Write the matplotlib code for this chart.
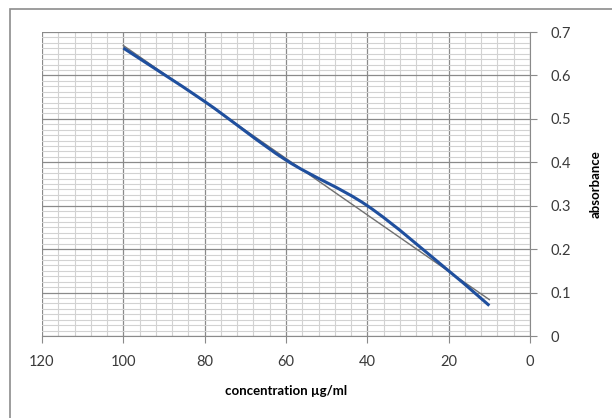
import numpy as np
import matplotlib
matplotlib.use('Agg')
import matplotlib.pyplot as plt
from matplotlib.path import Path
from matplotlib.patches import PathPatch, Rectangle
from matplotlib.ticker import MultipleLocator

# concentration (ug/ml) and absorbance
conc = [100, 80, 60, 40, 20, 10]
absorb = [0.663, 0.54, 0.405, 0.30, 0.15, 0.07]
x_ticks = [120, 100, 80, 60, 40, 20, 0]
y_ticks = [0, 0.1, 0.2, 0.3, 0.4, 0.5, 0.6, 0.7]

plt.rcParams['font.family'] = ['Lato', 'DejaVu Sans']


def smooth_path(xs, ys):
    # excel style smoothed line: catmull-rom turned into bezier segments
    p = np.column_stack([xs, ys]).astype(float)
    n = len(p)
    verts = [p[0]]
    codes = [Path.MOVETO]
    for i in range(n - 1):
        p0 = p[i - 1] if i > 0 else p[i]
        p3 = p[i + 2] if i + 2 < n else p[i + 1]
        c1 = p[i] + (p[i + 1] - p0) / 6
        c2 = p[i + 1] - (p3 - p[i]) / 6
        verts += [c1, c2, p[i + 1]]
        codes += [Path.CURVE4] * 3
    return Path(verts, codes)


fig = plt.figure(figsize=(6.12, 4.18), dpi=100)
ax = fig.add_axes([42 / 612, 1 - 336 / 418, 488 / 612, 304 / 418])

# outer chart frame
fig.add_artist(Rectangle((10 / 612, -0.2), 1.2, 1.2 - 9 / 418, transform=fig.transFigure,
                         fill=False, edgecolor='#8c8c8c', lw=1.2))

ax.set_xlim(120, 0)
ax.set_ylim(0, 0.7)
ax.xaxis.set_minor_locator(MultipleLocator(4))
ax.yaxis.set_minor_locator(MultipleLocator(0.0125))
ax.set_xticks(x_ticks)
ax.set_yticks(y_ticks)
ax.set_xticklabels([str(t) for t in x_ticks])
ax.set_yticklabels(['0'] + ['%.1f' % t for t in y_ticks[1:]])

ax.grid(which='major', color='#8a8a8a', lw=0.9)
ax.grid(which='minor', color='#d2d2d2', lw=0.8)
ax.set_axisbelow(True)

for s in ['top', 'left']:
    ax.spines[s].set_visible(False)
for s in ['bottom', 'right']:
    ax.spines[s].set_color('#8a8a8a')
ax.yaxis.tick_right()
ax.yaxis.set_label_position('right')
ax.tick_params(which='minor', length=0)
ax.tick_params(which='major', length=5, color='#8a8a8a', labelsize=10.5, labelcolor='#3a3a3a')
ax.tick_params(axis='x', pad=9)
ax.tick_params(axis='y', pad=10)

# linear trend line
k, b = np.polyfit(conc, absorb, 1)
tx = np.array([max(conc), min(conc)])
ax.plot(tx, k * tx + b, color='#707070', lw=1.0, zorder=3)

# data series, smoothed
ax.add_patch(PathPatch(smooth_path(conc, absorb), facecolor='none',
                       edgecolor='#1f4f9e', lw=2.2, zorder=4))

ax.set_xlabel('concentration µg/ml', fontsize=9.5, fontweight='bold', labelpad=11)
ax.set_ylabel('absorbance', fontsize=9.5, fontweight='bold', labelpad=13)

fig.savefig('out.png', dpi=100)
